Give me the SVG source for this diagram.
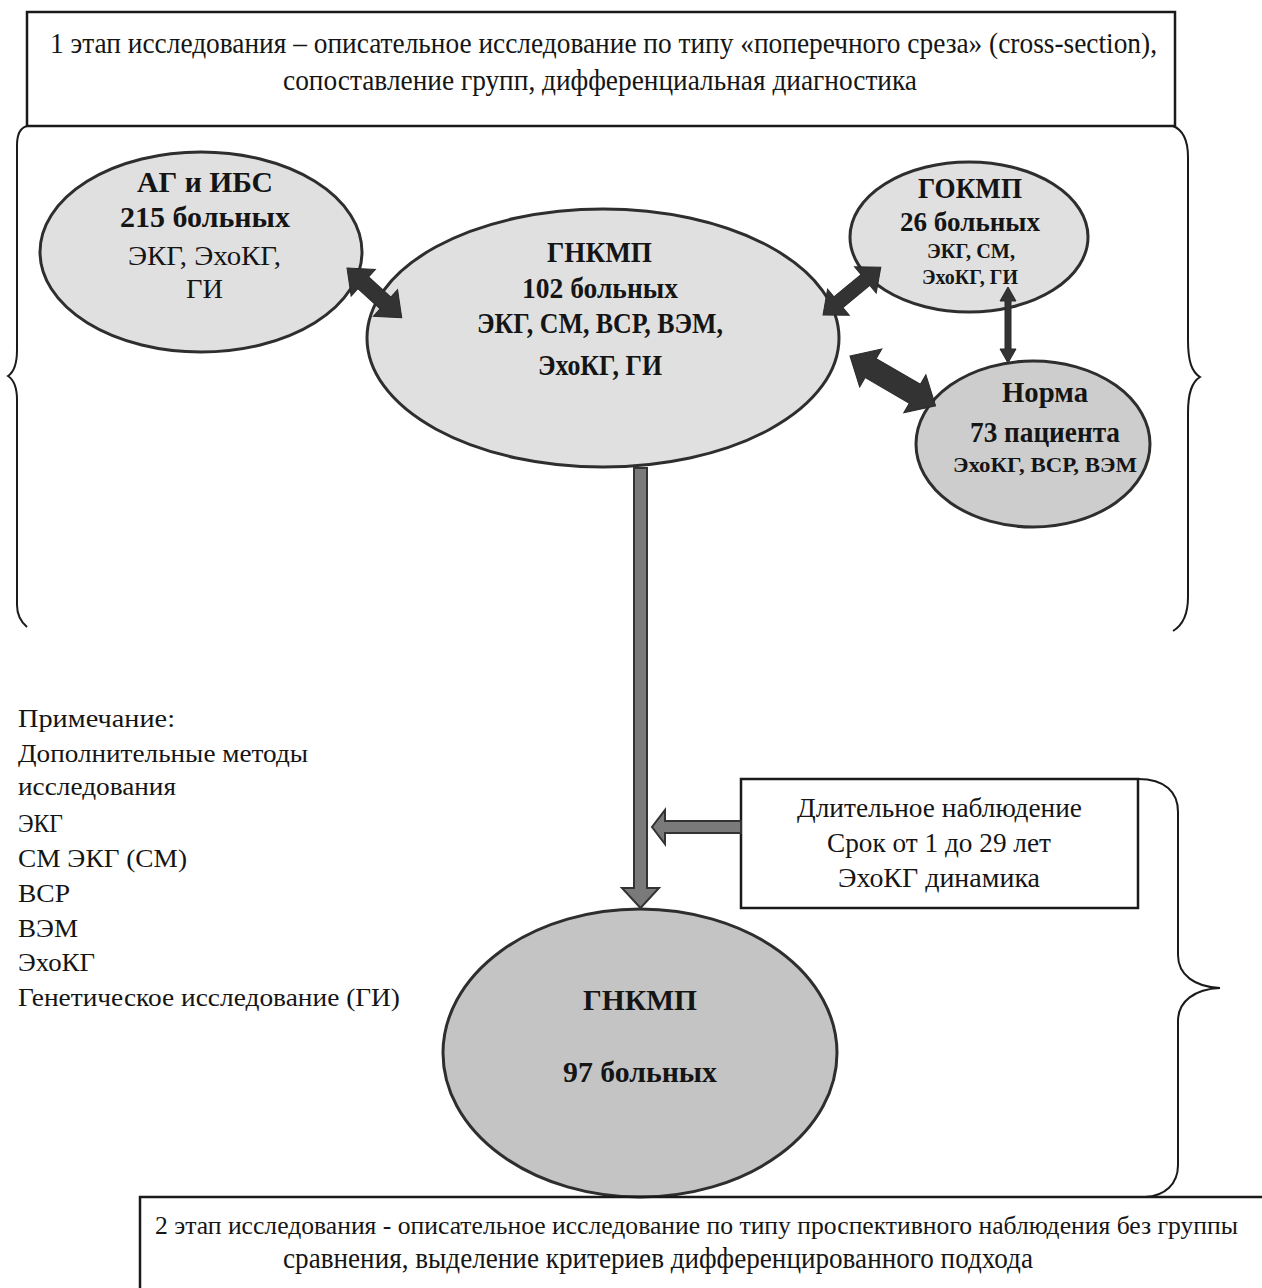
<svg xmlns="http://www.w3.org/2000/svg" width="1262" height="1288" viewBox="0 0 1262 1288">
  <defs>
    <style>
      text { font-family: "Liberation Serif", "Times New Roman", serif; fill: #151515; }
      .b { font-weight: bold; }
      .frame { fill: #ffffff; stroke: #1a1a1a; stroke-width: 2.5; }
      .brace { fill: none; stroke: #1a1a1a; stroke-width: 2; }
      .oval { stroke: #2e2e2e; stroke-width: 3; }
      .light { fill: #e0e0e0; }
      .mid { fill: #cdcdcd; }
      .dark { fill: #c4c4c4; }
      .dbl { fill: #333333; stroke: #2a2a2a; stroke-width: 1; }
      .flow { fill: #7a7a7a; stroke: #333333; stroke-width: 2; stroke-linejoin: miter; }
    </style>
  </defs>
  <rect width="1262" height="1288" fill="#ffffff"/>

  <!-- stage 1 heading box -->
  <g id="stage1">
    <rect class="frame" x="27" y="12" width="1148" height="114"/>
    <text x="50" y="53" font-size="30" textLength="1107" lengthAdjust="spacingAndGlyphs">1 этап исследования – описательное исследование по типу «поперечного среза» (cross-section),</text>
    <text x="283" y="90" font-size="30" textLength="634" lengthAdjust="spacingAndGlyphs">сопоставление групп, дифференциальная диагностика</text>
  </g>

  <!-- curly braces -->
  <g id="braces">
    <path class="brace" d="M27,126 C20,128 17,134 17,145 L17,350 C17,364 14,372 8,376 C14,380 17,388 17,400 L17,605 C17,615 20,621 27,627"/>
    <path class="brace" d="M1173,126 C1183,130 1188,140 1188,157 L1188,340 C1188,362 1192,372 1200,377 C1192,382 1188,392 1188,413 L1188,597 C1188,615 1183,625 1173,631"/>
    <path class="brace" d="M1138,779 C1165,779 1178,792 1178,812 L1178,955 C1178,975 1195,987 1220,988 C1195,989 1178,1001 1178,1021 L1178,1165 C1178,1184 1165,1196 1145,1197"/>
  </g>

  <g id="node-ag">
    <ellipse class="oval light" cx="201" cy="252" rx="161" ry="100"/>
    <text class="b" x="137" y="192" font-size="29" textLength="136" lengthAdjust="spacingAndGlyphs">АГ и ИБС</text>
    <text class="b" x="120" y="227" font-size="29" textLength="170" lengthAdjust="spacingAndGlyphs">215 больных</text>
    <text x="128" y="265" font-size="27" textLength="153" lengthAdjust="spacingAndGlyphs">ЭКГ, ЭхоКГ,</text>
    <text x="186" y="298" font-size="27" textLength="37" lengthAdjust="spacingAndGlyphs">ГИ</text>
  </g>

  <g id="node-gnkmp">
    <ellipse class="oval light" cx="603" cy="338" rx="236" ry="129"/>
    <text class="b" x="547" y="262" font-size="30" textLength="105" lengthAdjust="spacingAndGlyphs">ГНКМП</text>
    <text class="b" x="522" y="298" font-size="29" textLength="156" lengthAdjust="spacingAndGlyphs">102 больных</text>
    <text class="b" x="477" y="333" font-size="29" textLength="246" lengthAdjust="spacingAndGlyphs">ЭКГ, СМ, ВСР, ВЭМ,</text>
    <text class="b" x="538" y="375" font-size="29" textLength="124" lengthAdjust="spacingAndGlyphs">ЭхоКГ, ГИ</text>
  </g>

  <g id="node-gokmp">
    <ellipse class="oval light" cx="969" cy="237" rx="119" ry="75"/>
    <text class="b" x="918" y="198" font-size="29" textLength="104" lengthAdjust="spacingAndGlyphs">ГОКМП</text>
    <text class="b" x="900" y="231" font-size="27" textLength="140" lengthAdjust="spacingAndGlyphs">26 больных</text>
    <text class="b" x="927" y="258" font-size="20" textLength="88" lengthAdjust="spacingAndGlyphs">ЭКГ, СМ,</text>
    <text class="b" x="922" y="284" font-size="20" textLength="96" lengthAdjust="spacingAndGlyphs">ЭхоКГ, ГИ</text>
  </g>

  <g id="node-norma">
    <ellipse class="oval mid" cx="1033" cy="444" rx="117" ry="83"/>
    <text class="b" x="1002" y="402" font-size="30" textLength="86" lengthAdjust="spacingAndGlyphs">Норма</text>
    <text class="b" x="970" y="442" font-size="29" textLength="150" lengthAdjust="spacingAndGlyphs">73 пациента</text>
    <text class="b" x="953" y="472" font-size="22" textLength="184" lengthAdjust="spacingAndGlyphs">ЭхоКГ, ВСР, ВЭМ</text>
  </g>

  <g id="node-followup">
    <rect class="frame" x="741" y="779" width="397" height="129" stroke-width="2"/>
    <text x="797" y="817" font-size="27" textLength="285" lengthAdjust="spacingAndGlyphs">Длительное наблюдение</text>
    <text x="827" y="852" font-size="27" textLength="224" lengthAdjust="spacingAndGlyphs">Срок от 1 до 29 лет</text>
    <text x="838" y="887" font-size="27" textLength="202" lengthAdjust="spacingAndGlyphs">ЭхоКГ динамика</text>
  </g>

  <g id="node-gnkmp-97">
    <ellipse class="oval dark" cx="640" cy="1053" rx="197" ry="144"/>
    <text class="b" x="583" y="1010" font-size="29" textLength="114" lengthAdjust="spacingAndGlyphs">ГНКМП</text>
    <text class="b" x="563" y="1082" font-size="29" textLength="154" lengthAdjust="spacingAndGlyphs">97 больных</text>
  </g>

  <!-- connectors, drawn over the ovals -->
  <g id="connectors">
    <!-- double-headed block arrows -->
    <polygon class="dbl" transform="translate(347,268) rotate(42.3)" points="0,0 22,-18 22,-8 52,-8 52,-18 74,0 52,18 52,8 22,8 22,18"/>
    <polygon class="dbl" transform="translate(823,315) rotate(-39.6)" points="0,0 20,-17 20,-7 55,-7 55,-17 75,0 55,17 55,7 20,7 20,17"/>
    <polygon class="dbl" transform="translate(850,356) rotate(30.2)" points="0,0 24,-22 24,-11 75,-11 75,-22 99,0 75,22 75,11 24,11 24,22"/>
    <polygon class="dbl" transform="translate(1008,287) rotate(90)" points="0,0 14,-8 14,-3 62,-3 62,-8 76,0 62,8 62,3 14,3 14,8"/>
    <!-- follow-up flow -->
    <polygon class="flow" points="634,468 647,468 647,888 659,888 640.5,908 622,888 634,888"/>
    <polygon class="flow" points="741,821 665,821 665,810 652,827 665,844 665,833 741,833"/>
  </g>

  <!-- footnote with abbreviations -->
  <g id="note" font-size="25">
    <text x="18" y="727" textLength="157" lengthAdjust="spacingAndGlyphs">Примечание:</text>
    <text x="18" y="762" textLength="290" lengthAdjust="spacingAndGlyphs">Дополнительные методы</text>
    <text x="18" y="795" textLength="158" lengthAdjust="spacingAndGlyphs">исследования</text>
    <text x="18" y="832" textLength="45" lengthAdjust="spacingAndGlyphs">ЭКГ</text>
    <text x="18" y="867" textLength="169" lengthAdjust="spacingAndGlyphs">СМ ЭКГ (СМ)</text>
    <text x="18" y="902" textLength="52" lengthAdjust="spacingAndGlyphs">ВСР</text>
    <text x="18" y="937" textLength="60" lengthAdjust="spacingAndGlyphs">ВЭМ</text>
    <text x="18" y="971" textLength="77" lengthAdjust="spacingAndGlyphs">ЭхоКГ</text>
    <text x="18" y="1006" textLength="382" lengthAdjust="spacingAndGlyphs">Генетическое исследование (ГИ)</text>
  </g>

  <!-- stage 2 heading box -->
  <g id="stage2">
    <path d="M1262,1197 L140,1197 L140,1288" fill="none" stroke="#1a1a1a" stroke-width="2.5"/>
    <text x="155" y="1234" font-size="25" textLength="1083" lengthAdjust="spacingAndGlyphs">2 этап исследования - описательное исследование по типу проспективного наблюдения без группы</text>
    <text x="283" y="1268" font-size="29" textLength="750" lengthAdjust="spacingAndGlyphs">сравнения, выделение критериев дифференцированного подхода</text>
  </g>
</svg>
